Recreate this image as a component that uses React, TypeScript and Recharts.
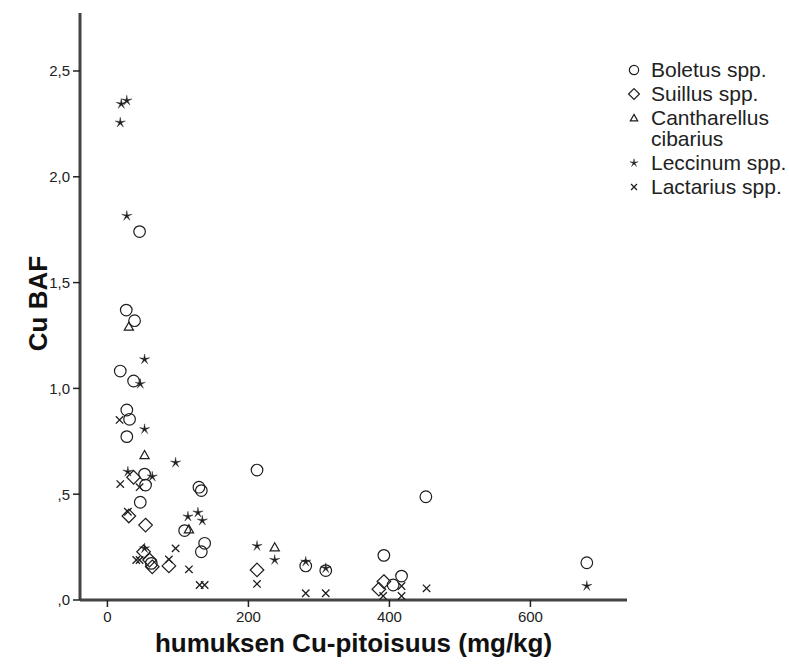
import React from 'react';
import { ScatterChart, Scatter, XAxis, YAxis, ReferenceLine, Label } from 'recharts';

const FONT = '"Liberation Sans", Arial, Helvetica, sans-serif';
const INK = '#1e1e1e';

// Boletus spp. (open circles)
const boletus = [
  { x: 45.6, y: 1.741 }, { x: 26.7, y: 1.37 }, { x: 38.5, y: 1.32 }, { x: 18.2, y: 1.082 },
  { x: 37.1, y: 1.035 }, { x: 27.5, y: 0.898 }, { x: 31.4, y: 0.854 }, { x: 27.5, y: 0.772 },
  { x: 52.7, y: 0.595 }, { x: 54.1, y: 0.543 }, { x: 46.6, y: 0.462 }, { x: 129.8, y: 0.533 },
  { x: 133.2, y: 0.517 }, { x: 109.5, y: 0.328 }, { x: 137.9, y: 0.268 }, { x: 133.2, y: 0.228 },
  { x: 62.2, y: 0.173 }, { x: 212.2, y: 0.614 }, { x: 451.7, y: 0.488 }, { x: 281.3, y: 0.161 },
  { x: 309.7, y: 0.139 }, { x: 392.1, y: 0.211 }, { x: 405.3, y: 0.071 }, { x: 417.2, y: 0.113 },
  { x: 680, y: 0.176 },
];

// Suillus spp. (open diamonds)
const suillus = [
  { x: 37.1, y: 0.58 }, { x: 30.4, y: 0.397 }, { x: 54.1, y: 0.354 }, { x: 51.3, y: 0.228 },
  { x: 59.8, y: 0.189 }, { x: 63.6, y: 0.157 }, { x: 87.2, y: 0.161 }, { x: 212.2, y: 0.142 },
  { x: 392.1, y: 0.087 }, { x: 385, y: 0.051 },
];

// Cantharellus cibarius (open triangles)
const cantharellus = [
  { x: 30.4, y: 1.292 }, { x: 52.7, y: 0.685 }, { x: 115.6, y: 0.334 }, { x: 237.3, y: 0.249 },
];

// Leccinum spp. (stars)
const leccinum = [
  { x: 19.6, y: 2.344 }, { x: 27.5, y: 2.36 }, { x: 18.2, y: 2.256 }, { x: 27.5, y: 1.815 },
  { x: 52.7, y: 1.137 }, { x: 46.6, y: 1.021 }, { x: 52.7, y: 0.807 }, { x: 96.7, y: 0.649 },
  { x: 29.0, y: 0.606 }, { x: 63.6, y: 0.583 }, { x: 114.2, y: 0.394 }, { x: 128.4, y: 0.413 },
  { x: 134.6, y: 0.375 }, { x: 52.7, y: 0.244 }, { x: 212.2, y: 0.255 }, { x: 237.3, y: 0.189 },
  { x: 281.3, y: 0.181 }, { x: 309.7, y: 0.15 }, { x: 680, y: 0.066 },
];

// Lactarius spp. (crosses)
const lactarius = [
  { x: 17.2, y: 0.851 }, { x: 18.2, y: 0.548 }, { x: 45.6, y: 0.533 }, { x: 29.0, y: 0.417 },
  { x: 40.9, y: 0.189 }, { x: 45.6, y: 0.189 }, { x: 87.2, y: 0.192 }, { x: 96.7, y: 0.244 },
  { x: 115.6, y: 0.145 }, { x: 130.8, y: 0.071 }, { x: 137.9, y: 0.071 }, { x: 212.2, y: 0.076 },
  { x: 281.3, y: 0.032 }, { x: 309.7, y: 0.032 }, { x: 417.2, y: 0.066 }, { x: 417.2, y: 0.019 },
  { x: 391.1, y: 0.019 }, { x: 452.7, y: 0.055 },
];

const xTicks = [0, 200, 400, 600];
const xTickLabels = ['0', '200', '400', '600'];
const yTicks = [0, 0.5, 1, 1.5, 2, 2.5];
const yTickLabels = [',0', ',5', '1,0', '1,5', '2,0', '2,5'];
const X_DOMAIN: [number, number] = [-38.9, 737];
const Y_DOMAIN: [number, number] = [0, 2.774];

const legendNames = ['Boletus spp.', 'Suillus spp.', 'Cantharellus\ncibarius', 'Leccinum spp.', 'Lactarius spp.'];

type MarkProps = { cx?: number; cy?: number; k?: number };

const CircleMark = ({ cx = 0, cy = 0, k = 1 }: MarkProps) => (
  <circle cx={cx} cy={cy} r={5.8 * k} fill="none" stroke={INK} strokeWidth={1.2} />
);
const DiamondMark = ({ cx = 0, cy = 0, k = 1 }: MarkProps) => {
  const s = 6.8 * k;
  return (
    <path d={`M${cx},${cy - s}L${cx + s},${cy}L${cx},${cy + s}L${cx - s},${cy}Z`} fill="none" stroke={INK} strokeWidth={1.2} />
  );
};
const TriangleMark = ({ cx = 0, cy = 0, k = 1 }: MarkProps) => (
  <path d={`M${cx},${cy - 4.5 * k}L${cx + 4.6 * k},${cy + 3.6 * k}L${cx - 4.6 * k},${cy + 3.6 * k}Z`} fill="none" stroke={INK} strokeWidth={1.2} />
);
const starPath = (cx: number, cy: number, ro: number, ri: number) => {
  let d = '';
  for (let i = 0; i < 10; i++) {
    const r = i % 2 === 0 ? ro : ri;
    const a = -Math.PI / 2 + (i * Math.PI) / 5;
    d += `${i === 0 ? 'M' : 'L'}${cx + r * Math.cos(a)},${cy + r * Math.sin(a)}`;
  }
  return d + 'Z';
};
const StarMark = ({ cx = 0, cy = 0, k = 1 }: MarkProps) => (
  <path d={starPath(cx, cy, 5.4 * k, 1.3 * k)} fill={INK} stroke={INK} strokeWidth={0.4} />
);
const CrossMark = ({ cx = 0, cy = 0, k = 1 }: MarkProps) => {
  const s = 3.7 * k;
  return (
    <path d={`M${cx - s},${cy - s}L${cx + s},${cy + s}M${cx - s},${cy + s}L${cx + s},${cy - s}`} stroke={INK} strokeWidth={1.3} fill="none" />
  );
};

const legendMarks = [CircleMark, DiamondMark, TriangleMark, StarMark, CrossMark];

const XTitle = (props: any) => {
  const vb = props.viewBox || { x: 0, y: 0, width: 0, height: 0 };
  return (
    <text x={vb.x + vb.width / 2} y={vb.y + 52} textAnchor="middle" fontFamily={FONT} fontWeight="bold" fontSize={26} fill="#111">
      humuksen Cu-pitoisuus (mg/kg)
    </text>
  );
};
const YTitle = (props: any) => {
  const vb = props.viewBox || { x: 0, y: 0, width: 0, height: 0 };
  const cx = 38;
  const cy = vb.y + vb.height / 2 - 3;
  return (
    <text x={cx} y={cy} transform={`rotate(-90, ${cx}, ${cy})`} textAnchor="middle" dominantBaseline="central" fontFamily={FONT} fontWeight="bold" fontSize={26} fill="#111">
      Cu BAF
    </text>
  );
};

const tickStyle = { fontFamily: FONT, fontSize: 15, fill: '#222' };

export default function App() {
  return (
    <div style={{ position: 'absolute', left: 0, top: 0, width: 789, height: 669, background: '#fff' }}>
      <ScatterChart width={789} height={669} margin={{ top: 13, right: 162, bottom: 0, left: 0 }}>
        <XAxis
          type="number"
          dataKey="x"
          domain={X_DOMAIN}
          ticks={xTicks}
          tickFormatter={(v: number) => xTickLabels[xTicks.indexOf(v)] ?? String(v)}
          allowDataOverflow
          height={69}
          tickSize={7}
          tickMargin={4}
          tick={tickStyle}
          axisLine={{ stroke: '#444', strokeWidth: 3 }}
          tickLine={{ stroke: '#222', strokeWidth: 1.5 }}
        >
          <Label content={<XTitle />} />
        </XAxis>
        <YAxis
          type="number"
          dataKey="y"
          domain={Y_DOMAIN}
          ticks={yTicks}
          tickFormatter={(v: number) => yTickLabels[yTicks.indexOf(v)] ?? String(v)}
          allowDataOverflow
          width={80}
          tickSize={7}
          tickMargin={3}
          tick={tickStyle}
          axisLine={{ stroke: '#444', strokeWidth: 3 }}
          tickLine={{ stroke: '#222', strokeWidth: 1.5 }}
        >
          <Label content={<YTitle />} />
        </YAxis>
        <ReferenceLine x={X_DOMAIN[0]} stroke="#d8d8d8" strokeWidth={1} />
        <ReferenceLine y={Y_DOMAIN[0]} stroke="#d8d8d8" strokeWidth={1} />
        <Scatter name="Boletus spp." data={boletus} shape={(p: any) => <CircleMark cx={p.cx} cy={p.cy} />} isAnimationActive={false} />
        <Scatter name="Suillus spp." data={suillus} shape={(p: any) => <DiamondMark cx={p.cx} cy={p.cy} />} isAnimationActive={false} />
        <Scatter name="Cantharellus cibarius" data={cantharellus} shape={(p: any) => <TriangleMark cx={p.cx} cy={p.cy} />} isAnimationActive={false} />
        <Scatter name="Leccinum spp." data={leccinum} shape={(p: any) => <StarMark cx={p.cx} cy={p.cy} />} isAnimationActive={false} />
        <Scatter name="Lactarius spp." data={lactarius} shape={(p: any) => <CrossMark cx={p.cx} cy={p.cy} />} isAnimationActive={false} />
      </ScatterChart>
      <div style={{ position: 'absolute', left: 625, top: 59, fontFamily: FONT, fontSize: 21, color: '#222', lineHeight: '21px' }}>
        {legendNames.map((name, i) => {
          const Mark = legendMarks[i];
          const lines = name.split('\n');
          return (
            <div key={name} style={{ display: 'flex', alignItems: 'flex-start', marginBottom: 3 }}>
              <svg width={20} height={21} style={{ flex: '0 0 auto' }}>
                <Mark cx={9} cy={11} k={0.8} />
              </svg>
              <div style={{ marginLeft: 6 }}>
                {lines.map((l) => (
                  <div key={l}>{l}</div>
                ))}
              </div>
            </div>
          );
        })}
      </div>
    </div>
  );
}
